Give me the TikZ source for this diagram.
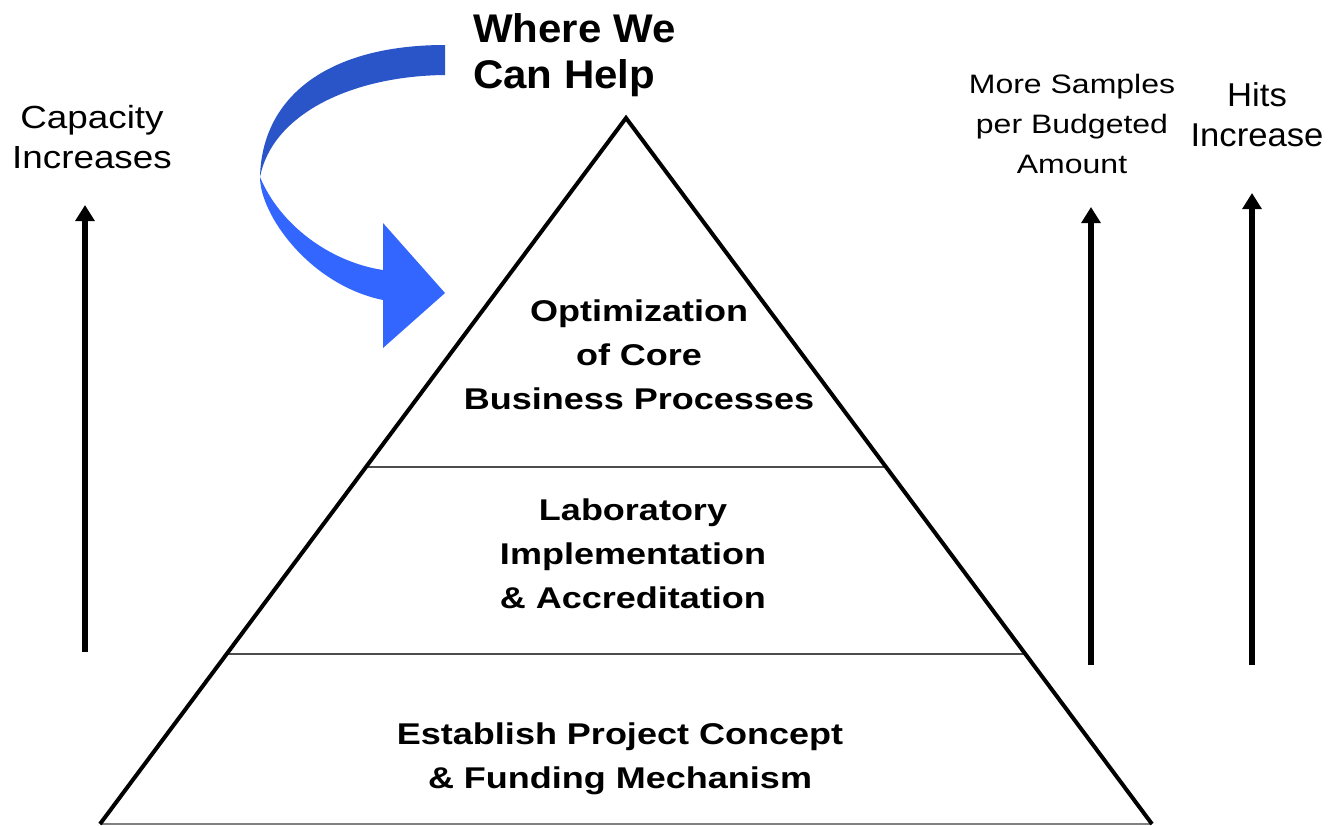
\documentclass[tikz,border=0pt]{standalone}
\usepackage{fontspec}
\setmainfont{Liberation Sans}
\usetikzlibrary{arrows.meta,calc,positioning}
\definecolor{bandtop}{HTML}{2A55C9}
\definecolor{bandlow}{HTML}{3366FF}

\begin{document}
\begin{tikzpicture}[
    x=0.75pt, y=-0.75pt,
    layer/.style={font=\fontsize{22.5}{33}\selectfont\bfseries\addfontfeature{FakeStretch=1.2}, align=center, inner sep=0pt},
    label/.style={align=center, inner sep=0pt},
    uparrow/.style={line width=4.5pt, -{Triangle[width=14pt,length=12pt]}},
    edge/.style={line width=3pt, line join=miter},
    divider/.style={line width=1.1pt, black!70}
]
    \useasboundingbox (0,0) rectangle (1337,825);

    % pyramid
    \coordinate (top) at (626,118);
    \coordinate (bl) at (100,824);
    \coordinate (br) at (1152,824);
    \draw[gray, line width=1.2pt] (bl) -- (br);
    \draw[divider] ($(top)!0.494!(bl)$) -- ($(top)!0.494!(br)$);
    \draw[divider] ($(top)!0.759!(bl)$) -- ($(top)!0.759!(br)$);
    \draw[edge] (bl) -- (top) -- (br);

    \node[layer] (core) at (639,355) {Optimization\\of Core\\Business Processes};
    \node[layer] (lab) at (633,554) {Laboratory\\Implementation\\\& Accreditation};
    \node[layer] (fund) at (620,759) {Establish Project Concept\\\& Funding Mechanism};

    % where we can help
    \node[label, align=left, anchor=north west, font=\fontsize{30}{34.5}\selectfont\bfseries\addfontfeature{FakeStretch=1.05}] (help) at (473,13) {Where We\\Can Help};
    \fill[bandtop] (445,45) .. controls (330,45) and (262,95) .. (260,177)
        .. controls (272,115) and (350,76) .. (445,75) -- cycle;
    \fill[bandlow] (260,177) .. controls (260,215) and (310,285) .. (383,300)
        -- (383,348) -- (445,293) -- (383,223) -- (383,270)
        .. controls (330,262) and (280,225) .. (260,177) -- cycle;

    % side arrows
    \node[label, font=\fontsize{24}{30}\selectfont\addfontfeature{FakeStretch=1.15}] (cap) at (92,137) {Capacity\\Increases};
    \node[label, font=\fontsize{20}{30}\selectfont\addfontfeature{FakeStretch=1.2}] (more) at (1072,124) {More Samples\\per Budgeted\\Amount};
    \node[label, font=\fontsize{24.75}{30}\selectfont\addfontfeature{FakeStretch=1.05}] (hits) at (1257,115) {Hits\\Increase};

    \coordinate (capfoot) at (85,652);
    \coordinate (caphead) at (85,205);
    \coordinate (morefoot) at (1091,665);
    \coordinate (morehead) at (1091,207);
    \coordinate (hitsfoot) at (1252,665);
    \coordinate (hitshead) at (1252,193);
    \draw[uparrow] (capfoot) -- (caphead);
    \draw[uparrow] (morefoot) -- (morehead);
    \draw[uparrow] (hitsfoot) -- (hitshead);
\end{tikzpicture}
\end{document}
